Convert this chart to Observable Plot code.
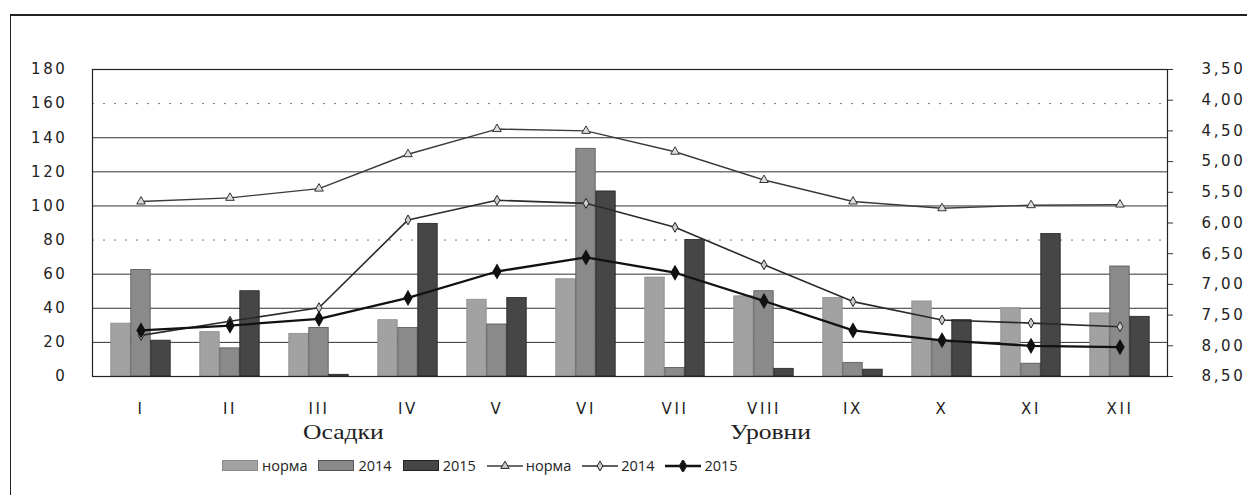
<!DOCTYPE html>
<html><head><meta charset="utf-8">
<script src="https://cdn.jsdelivr.net/npm/d3@7"></script>
<script src="https://cdn.jsdelivr.net/npm/@observablehq/plot@0.6"></script>
<style>
body{margin:0;background:#fff;}
#wrap{position:relative;width:1247px;height:495px;overflow:hidden;background:#fff;}
#border{position:absolute;left:10px;top:14px;right:-5px;bottom:-5px;border-top:2px solid #222;border-left:1.5px solid #222;}
#chart{position:absolute;left:0;top:0;}
.title{position:absolute;top:420px;font-family:"Liberation Serif","DejaVu Serif",serif;font-size:21px;color:#222;transform:scaleX(1.22);transform-origin:left top;white-space:nowrap;}
#legend{position:absolute;left:222px;top:456px;display:flex;align-items:center;font-family:"Open Sans","Liberation Sans",sans-serif;font-size:14.5px;color:#222;}
.item{display:flex;align-items:center;margin-right:11px;}
.sw{width:34px;height:9px;margin-right:4px;}
.item svg{margin-right:3px;}
</style></head><body>
<div id="wrap"><div id="border"></div><div id="chart"></div>
<div class="title" id="t1"></div><div class="title" id="t2"></div>
<div id="legend"></div></div>
<script>
// ---- data ----
const months = ["I","II","III","IV","V","VI","VII","VIII","IX","X","XI","XII"];
const precipNorma = [31, 26, 25, 33, 45, 57, 58, 47, 46, 44, 40, 37];
const precip2014  = [62.5, 16.5, 28.5, 28.5, 30.5, 133.5, 5, 50, 8, 21, 7.5, 64.5];
const precip2015  = [21, 50, 1, 89.5, 46, 108.5, 80, 4.5, 4, 33, 83.5, 35];
const levelNorma = [5.65, 5.59, 5.44, 4.88, 4.47, 4.50, 4.84, 5.30, 5.65, 5.76, 5.71, 5.70];
const level2014  = [7.83, 7.60, 7.38, 5.95, 5.63, 5.68, 6.07, 6.68, 7.28, 7.58, 7.63, 7.69];
const level2015  = [7.75, 7.67, 7.56, 7.22, 6.79, 6.56, 6.81, 7.27, 7.75, 7.91, 8.00, 8.02];
const leftTicks = [0, 20, 40, 60, 80, 100, 120, 140, 160, 180];
const rightTicks = [3.5, 4, 4.5, 5, 5.5, 6, 6.5, 7, 7.5, 8, 8.5];
const rightTickLabels = ["3,50","4,00","4,50","5,00","5,50","6,00","6,50","7,00","7,50","8,00","8,50"];
const seriesNames = ["норма", "2014", "2015"];
const axisTitles = ["Осадки", "Уровни"];

// ---- styles ----
const barColors = ["#a2a2a2", "#8a8a8a", "#464646"];
const barStrokes = ["#8a8a8a", "#555", "#222"];
const lineColors = ["#3a3a3a", "#2a2a2a", "#111"];
const lineWidths = [1.4, 1.6, 2.3];

// level (right axis) -> left axis units
const levelToLeft = d3.scaleLinear([rightTicks[rightTicks.length-1], rightTicks[0]], [leftTicks[0], leftTicks[leftTicks.length-1]]);

const barSets = [precipNorma, precip2014, precip2015].map(arr => months.map((m, i) => ({month: m, value: arr[i]})));
const lineSets = [levelNorma, level2014, level2015].map(arr => months.map((m, i) => ({month: m, level: arr[i], y: levelToLeft(arr[i])})));

const barW = 20, inset = ((1247 - 92 - 80) / 12 - barW) / 2;
const rightPos = rightTicks.map(levelToLeft);

const chart = Plot.plot({
  width: 1247, height: 420,
  marginLeft: 92, marginRight: 80, marginTop: 69, marginBottom: 44,
  style: {fontFamily: "DejaVu Sans, Verdana, sans-serif", fontSize: "15px", letterSpacing: "2.6px", color: "#222", background: "transparent"},
  x: {type: "band", domain: months, padding: 0, label: null},
  y: {domain: [0, 180], ticks: leftTicks, label: null},
  marks: [
    Plot.gridY([20, 40, 60, 100, 120, 140], {stroke: "#333", strokeOpacity: 1, strokeWidth: 1}),
    Plot.gridY([80, 160], {stroke: "#777", strokeOpacity: 1, strokeDasharray: "2,9"}),
    ...barSets.map((data, k) => Plot.barY(data, {x: "month", y: "value", fill: barColors[k], stroke: barStrokes[k], strokeWidth: 0.8, insetLeft: inset, insetRight: inset, dx: (k - 1) * barW})),
    ...lineSets.map((data, k) => Plot.line(data, {x: "month", y: "y", stroke: lineColors[k], strokeWidth: lineWidths[k]})),
    Plot.dot(lineSets[0], {x: "month", y: "y", symbol: "triangle", r: 3.2, stroke: "#333", fill: "#ddd", strokeWidth: 1}),
    Plot.dot(lineSets[1], {x: "month", y: "y", symbol: "diamond", r: 3, fill: "#ccc", stroke: "#222", strokeWidth: 1}),
    Plot.dot(lineSets[2], {x: "month", y: "y", symbol: "diamond", r: 4, fill: "#111", stroke: "#111"}),
    Plot.frame({stroke: "#222", strokeWidth: 1.2}),
    Plot.axisY({anchor: "left", ticks: leftTicks, tickSize: 0, tickPadding: 25, label: null, tickFormat: d => String(d)}),
    Plot.axisY({anchor: "right", ticks: rightPos, tickSize: 5, tickPadding: 29, stroke: "#333", label: null,
      tickFormat: d => rightTickLabels[rightPos.indexOf(d)]}),
    Plot.axisX({anchor: "bottom", tickSize: 0, tickPadding: 27, label: null})
  ]
});
document.getElementById("chart").appendChild(chart);

// titles
const t1 = document.getElementById("t1"), t2 = document.getElementById("t2");
t1.textContent = axisTitles[0]; t1.style.left = "303px";
t2.textContent = axisTitles[1]; t2.style.left = "730px";

// legend
const legend = document.getElementById("legend");
seriesNames.forEach((name, k) => {
  const it = document.createElement("div"); it.className = "item";
  const sw = document.createElement("div"); sw.className = "sw";
  sw.style.background = barColors[k]; sw.style.border = "0.5px solid " + barStrokes[k];
  it.appendChild(sw);
  const tx = document.createElement("span"); tx.textContent = name; it.appendChild(tx);
  legend.appendChild(it);
});
const syms = [d3.symbolTriangle, d3.symbolDiamond, d3.symbolDiamond];
const symSizes = [30, 28, 50];
seriesNames.forEach((name, k) => {
  const it = document.createElement("div"); it.className = "item";
  const svg = d3.create("svg").attr("width", 36).attr("height", 12);
  svg.append("line").attr("x1", 0).attr("x2", 36).attr("y1", 6).attr("y2", 6).attr("stroke", lineColors[k]).attr("stroke-width", lineWidths[k]);
  svg.append("path").attr("d", d3.symbol(syms[k], symSizes[k])()).attr("transform", "translate(18,6)")
    .attr("fill", k === 2 ? "#111" : "#ccc").attr("stroke", "#222");
  it.appendChild(svg.node());
  const tx = document.createElement("span"); tx.textContent = name; it.appendChild(tx);
  legend.appendChild(it);
});
</script>
</body></html>
